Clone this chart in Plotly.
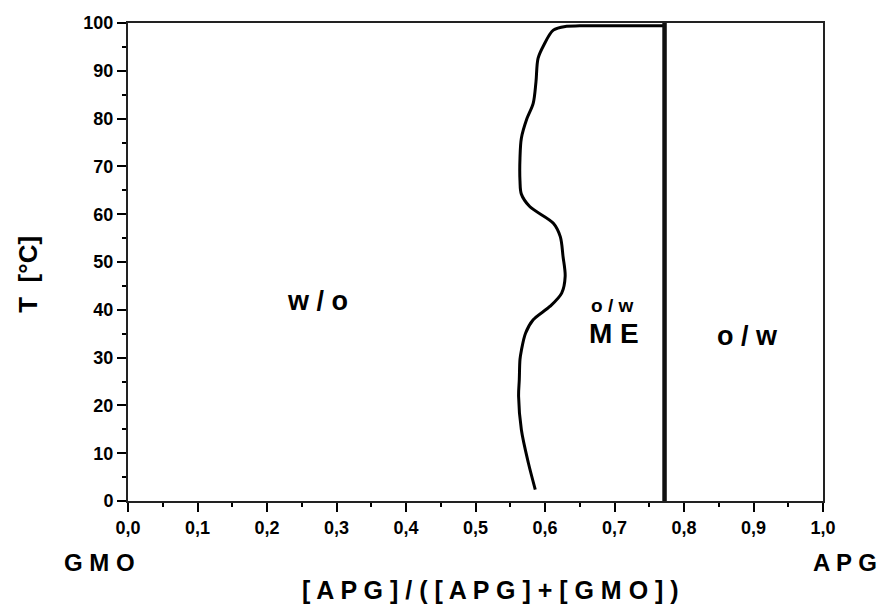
import plotly.graph_objects as go

# Phase boundary curve (w/o | o/w ME)
boundary_x = [0.586, 0.576, 0.566, 0.562, 0.563, 0.564, 0.566, 0.572, 0.583, 0.607,
              0.624, 0.629, 0.626, 0.622, 0.612, 0.578, 0.566, 0.564, 0.564, 0.566,
              0.574, 0.583, 0.587, 0.590, 0.598, 0.612, 0.631, 0.650, 0.772]
boundary_y = [2.4, 8.0, 14.9, 21.9, 25.4, 29.6, 31.5, 35.1, 37.9, 40.7,
              43.5, 47.0, 51.1, 55.3, 58.1, 61.6, 64.2, 67.0, 71.7, 75.9,
              80.0, 83.2, 87.7, 92.6, 95.3, 98.5, 99.3, 99.4, 99.4]

# Vertical boundary (o/w ME | o/w)
vline_x = [0.772, 0.772]
vline_y = [0, 100]

# Region labels
region_text = ["w / o", "o / w", "M E", "o / w"]
region_x = [0.273, 0.696, 0.699, 0.891]
region_y = [41.9, 40.8, 35.0, 34.6]
region_size = [27, 19, 28, 27]

x_ticks = [0.0, 0.1, 0.2, 0.3, 0.4, 0.5, 0.6, 0.7, 0.8, 0.9, 1.0]
x_labels = ["0,0", "0,1", "0,2", "0,3", "0,4", "0,5", "0,6", "0,7", "0,8", "0,9", "1,0"]
y_ticks = [0, 10, 20, 30, 40, 50, 60, 70, 80, 90, 100]

FONT = "Liberation Sans, Arial, sans-serif"

fig = go.Figure()
fig.add_trace(go.Scatter(x=boundary_x, y=boundary_y, mode="lines",
                         line=dict(color="black", width=3, shape="spline", smoothing=0.9),
                         showlegend=False, hoverinfo="skip"))
fig.add_trace(go.Scatter(x=vline_x, y=vline_y, mode="lines",
                         line=dict(color="#111111", width=4.5),
                         showlegend=False, hoverinfo="skip"))

for t, x, y, s in zip(region_text, region_x, region_y, region_size):
    fig.add_annotation(x=x, y=y, xref="x", yref="y", text=t, showarrow=False,
                       font=dict(family=FONT, size=s, color="black", weight="bold"))

W, H = 881, 604
L, R, T, B = 128, 58, 23, 102.5
pw, ph = W - L - R, H - T - B

def px_to_paper(px, py):
    return (px - L) / pw, (H - B - py) / ph

for text, (px, py), size, ang in [
    ("[ A P G ] / ( [ A P G ] + [ G M O ] )", (490, 591), 25, 0),
    ("G M O", (99, 563), 24, 0),
    ("A P G", (845, 563), 24, 0),
    ("T  [°C]", (28, 275), 26, -90),
]:
    xp, yp = px_to_paper(px, py)
    fig.add_annotation(x=xp, y=yp, xref="paper", yref="paper", text=text,
                       showarrow=False, textangle=ang, xanchor="center", yanchor="middle",
                       font=dict(family=FONT, size=size, color="black", weight="bold"))

fig.update_layout(
    width=W, height=H, margin=dict(l=L, r=R, t=T, b=B),
    paper_bgcolor="white", plot_bgcolor="white",
    xaxis=dict(range=[0, 1], tickvals=x_ticks, ticktext=x_labels, ticks="outside",
               ticklen=9, tickwidth=2, tickcolor="black", showgrid=False, zeroline=False,
               showline=True, linecolor="#222222", linewidth=2, mirror=True,
               minor=dict(dtick=0.05, ticks="outside", ticklen=4, tickwidth=2, tickcolor="black"),
               tickfont=dict(family=FONT, size=18, color="black", weight="bold")),
    yaxis=dict(range=[0, 100], tickvals=y_ticks, ticks="outside",
               ticklen=9, tickwidth=2, tickcolor="black", showgrid=False, zeroline=False,
               showline=True, linecolor="#222222", linewidth=2, mirror=True,
               minor=dict(dtick=5, ticks="outside", ticklen=4, tickwidth=2, tickcolor="black"),
               tickfont=dict(family=FONT, size=18, color="black", weight="bold")),
)

fig.write_html("out.html")
